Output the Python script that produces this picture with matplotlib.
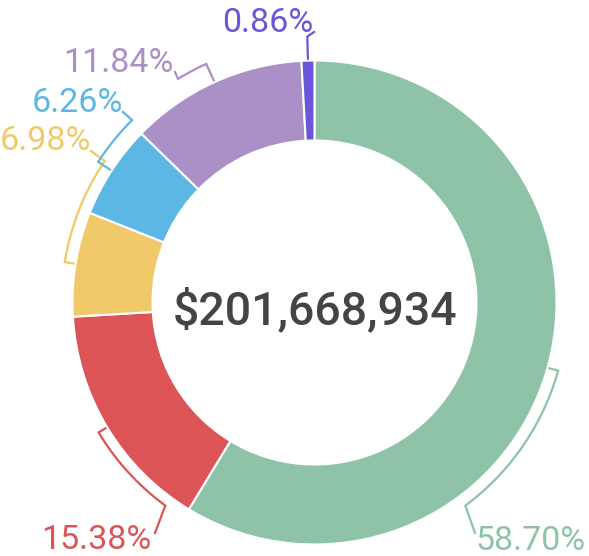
import numpy as np
import matplotlib
matplotlib.use('Agg')
import matplotlib.pyplot as plt
from matplotlib import font_manager

# data
labels = ['58.70%', '15.38%', '6.98%', '6.26%', '11.84%', '0.86%']
shares = [58.70, 15.38, 6.98, 6.26, 11.84, 0.86]
total_text = '$201,668,934'
colors = ['#8ec3a7', '#dc5456', '#f0c96a', '#5db7e4', '#aa90c6', '#6a55db']

# label layout (image pixels, y measured from the top)
arc_r = [253, 252, 253, 258, 262, 266]
arc_end = [-53.4, -126.3, 146.0, 135.0, 121.4, None]
anchor = [(475, 533), (155, 533), (91, 151), (123, 112), (175, 72), (314, 32)]
text_pos = [(475, 550, 'left'), (151, 549, 'right'), (91, 150, 'right'),
            (123, 112, 'right'), (174, 72, 'right'), (313, 32, 'right')]

W, H = 589, 556
cx, cy = 314.5, H - 302.5
R, ring = 242, 80


def up(y):
    return H - y


def has_font(name):
    try:
        font_manager.findfont(font_manager.FontProperties(family=name), fallback_to_default=False)
        return True
    except Exception:
        return False


fig = plt.figure(figsize=(W / 100, H / 100), dpi=100)
ax = fig.add_axes([0, 0, 1, 1])

ax.pie(shares, colors=colors, startangle=90, counterclock=False, radius=R,
       center=(cx, cy), wedgeprops=dict(width=ring, edgecolor='white', linewidth=1.5))
ax.set_xlim(0, W)
ax.set_ylim(0, H)
ax.set_aspect('equal')
ax.axis('off')

tot = sum(shares)
cum = np.cumsum([0] + shares[:-1])
mids = [90 - 360 * (c + v / 2) / tot for c, v in zip(cum, shares)]

for i, lab in enumerate(labels):
    a0 = mids[i]
    a1 = arc_end[i] if arc_end[i] is not None else a0
    # take the short way round
    a1 = a0 + ((a1 - a0 + 180) % 360 - 180)
    r = arc_r[i]
    angs = np.radians(np.linspace(a0, a1, 40))
    xs = [cx + 244 * np.cos(angs[0])] + list(cx + r * np.cos(angs))
    ys = [cy + 244 * np.sin(angs[0])] + list(cy + r * np.sin(angs))
    xs.append(anchor[i][0])
    ys.append(up(anchor[i][1]))
    ax.plot(xs, ys, color=colors[i], lw=1.6, solid_joinstyle='miter')

    tx, ty, ha = text_pos[i]
    ax.text(tx, up(ty), lab, color=colors[i], fontsize=24.5, family='Roboto',
            ha=ha, va='baseline')

if has_font('Liberation Sans Narrow'):
    ax.text(315, up(325), total_text, color='#444444', fontsize=39.6,
            family='Liberation Sans Narrow', fontweight='bold', ha='center', va='baseline')
else:
    ax.text(315, up(324), total_text, color='#444444', fontsize=33.5,
            family='Roboto', fontweight='medium', ha='center', va='baseline')

fig.savefig('out.png', dpi=100)
